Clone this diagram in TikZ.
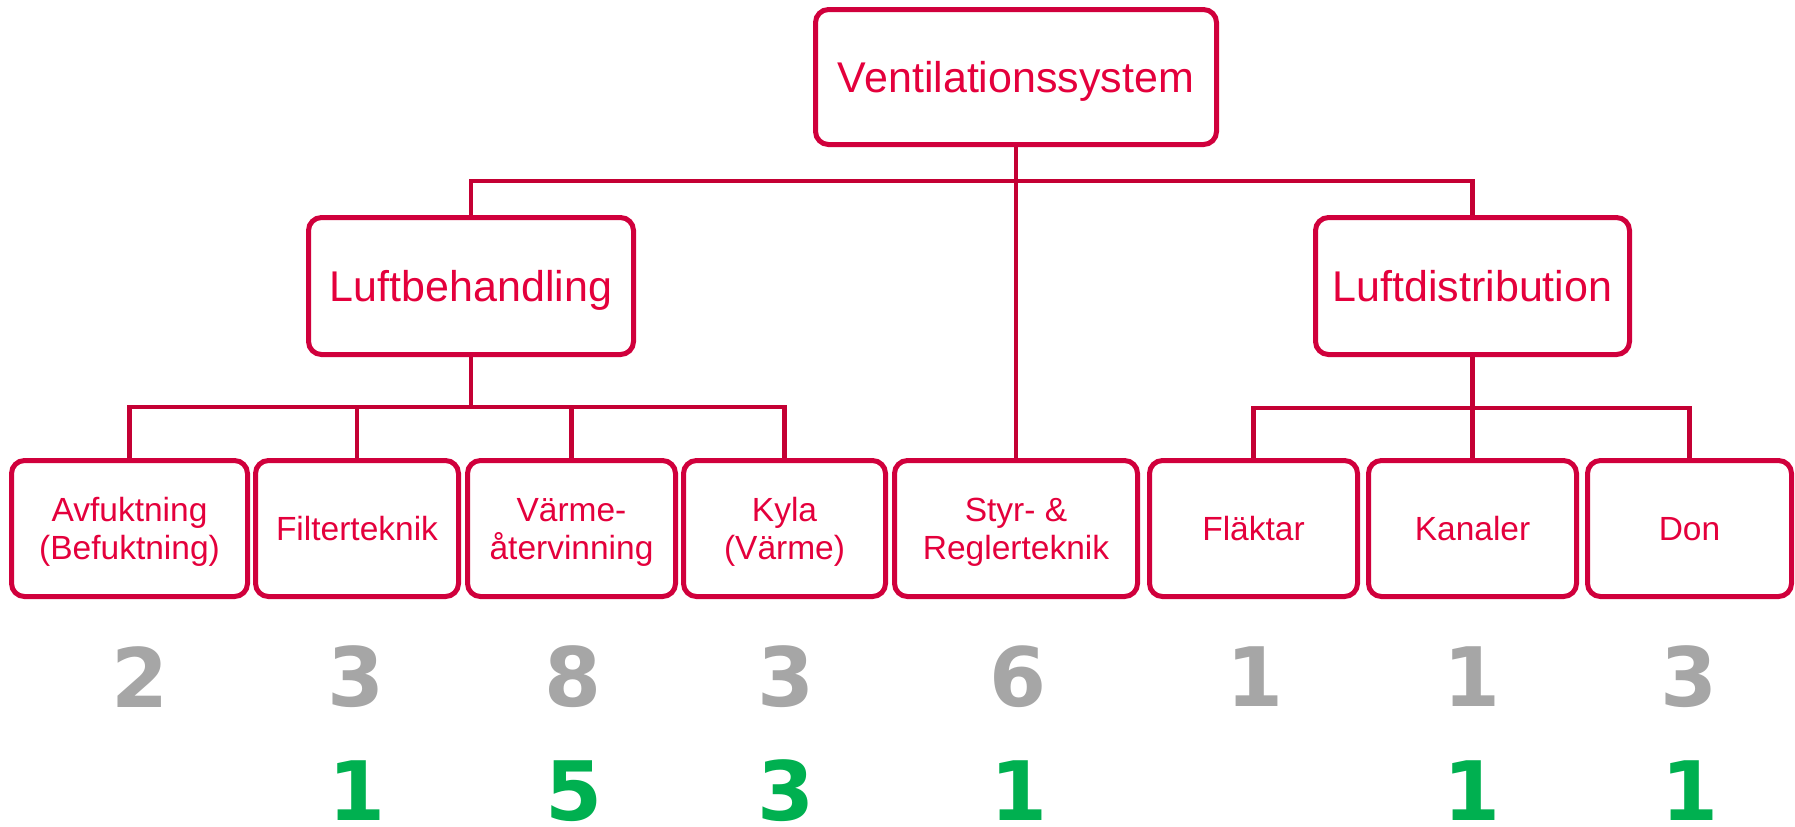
\documentclass[tikz,border=0pt]{standalone}
\usepackage{fontspec}
\setmainfont{Liberation Sans}
\newfontfamily\numfont{DejaVu Sans}
\definecolor{boxred}{RGB}{208,0,60}
\definecolor{txtred}{RGB}{228,0,60}
\definecolor{linkred}{RGB}{196,0,52}
\definecolor{numgrey}{RGB}{166,166,166}
\definecolor{numgreen}{RGB}{0,176,80}
% two centred lines, baseline on the last line
\newcommand\twolines[2]{\begin{tabular}[b]{@{}c@{}}#1\\#2\end{tabular}}

\begin{document}
\begin{tikzpicture}[x=0.5pt,y=-0.5pt,
  box/.style={draw=boxred, line width=2.5pt, rounded corners=6.5pt, fill=white,
    text=txtred, align=center, inner sep=0pt, text depth=0pt},
  bigbox/.style={box, text height=15.4pt, font=\fontsize{21.5}{25}\selectfont},
  smallbox/.style={box, minimum height=68pt, text height=12pt,
    font=\fontsize{16.75}{19.25}\selectfont},
  tallbox/.style={smallbox, text height=31.25pt},
  link/.style={draw=linkred, line width=2.3pt},
  count/.style={font=\numfont\bfseries\fontsize{41}{41}\selectfont, inner sep=0pt},
  oldcount/.style={count, text=numgrey},
  newcount/.style={count, text=numgreen}]

\useasboundingbox (0,0) rectangle (1795,826);

% top level and the two main branches
\node[bigbox, minimum width=200.5pt, minimum height=67.5pt] (top) at (1016,77) {Ventilationssystem};
\node[bigbox, minimum width=162.5pt, minimum height=68.5pt] (lb) at (471,286) {Luftbehandling};
\node[bigbox, minimum width=157pt, minimum height=68.5pt] (ld) at (1472.5,286) {Luftdistribution};

% leaf row
\node[tallbox,  minimum width=118pt]   (avf)   at (129.5,528.5)  {\twolines{Avfuktning}{(Befuktning)}};
\node[smallbox, minimum width=101.5pt] (fil)   at (357,528.5)    {Filterteknik};
\node[tallbox,  minimum width=104pt]   (varme) at (571.5,528.5)  {\twolines{Värme-}{återvinning}};
\node[tallbox,  minimum width=101pt]   (kyla)  at (784.5,528.5)  {\twolines{Kyla}{(Värme)}};
\node[tallbox,  minimum width=121.5pt] (styr)  at (1016,528.5)   {\twolines{Styr- \&}{Reglerteknik}};
\node[smallbox, minimum width=104pt]   (flakt) at (1253.5,528.5) {Fläktar};
\node[smallbox, minimum width=104pt]   (kan)   at (1472.5,528.5) {Kanaler};
\node[smallbox, minimum width=102pt]   (don)   at (1689.5,528.5) {Don};

% connectors
\coordinate (jtop) at (1016,181);
\coordinate (jl) at (471,407);
\coordinate (jr) at (1472.5,408);

\draw[link] (top.south) -- (styr.north);
\draw[link] (lb.north) |- (jtop) -| (ld.north);

\draw[link] (lb.south) -- (jl);
\draw[link] (avf.north) |- (kyla.north |- jl) -- (kyla.north);
\draw[link] (fil.north) -- (fil.north |- jl);
\draw[link] (varme.north) -- (varme.north |- jl);

\draw[link] (ld.south) -- (kan.north);
\draw[link] (flakt.north) |- (don.north |- jr) -- (don.north);

% counts
\node[oldcount] (o-avf)   at (140,677)    {2};
\node[oldcount] (o-fil)   at (356,677)    {3};
\node[oldcount] (o-varme) at (573,677)    {8};
\node[oldcount] (o-kyla)  at (786.5,677)  {3};
\node[oldcount] (o-styr)  at (1018,677)   {6};
\node[oldcount] (o-flakt) at (1255,677)   {1};
\node[oldcount] (o-kan)   at (1472.5,677) {1};
\node[oldcount] (o-don)   at (1689,677)   {3};

\node[newcount] (n-fil)   at (357,791)    {1};
\node[newcount] (n-varme) at (574,791)    {5};
\node[newcount] (n-kyla)  at (786.5,791)  {3};
\node[newcount] (n-styr)  at (1019,791)   {1};
\node[newcount] (n-kan)   at (1472.5,791) {1};
\node[newcount] (n-don)   at (1690,791)   {1};
\end{tikzpicture}
\end{document}
